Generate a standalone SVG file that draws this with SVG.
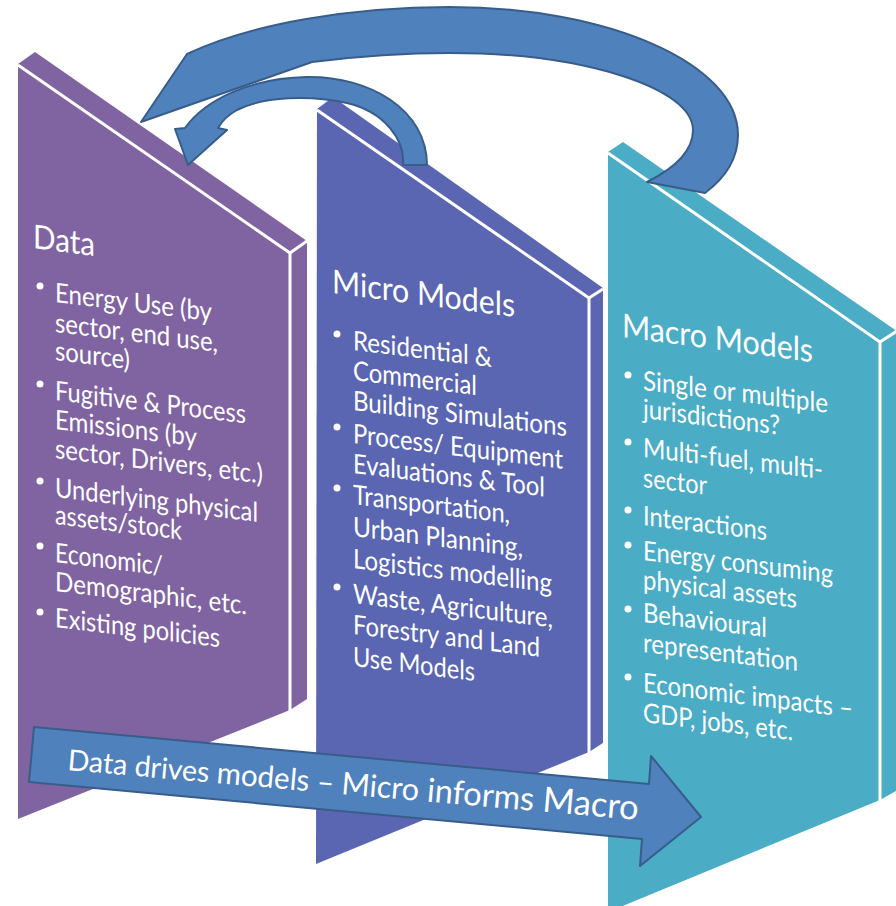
<svg xmlns="http://www.w3.org/2000/svg" width="896" height="906" viewBox="0 0 896 906">
  <style>
    .data{fill:#8064A2}
    .micro{fill:#5A66B2}
    .macro{fill:#4BACC6}
    .edge{fill:none;stroke:#ffffff;stroke-width:3;stroke-linejoin:miter}
    .arrow{fill:#4F81BD;stroke:#385D8A;stroke-width:2;stroke-linejoin:round}
    text{font-family:Lato,"Liberation Sans",sans-serif;fill:#ffffff}
    .h{font-size:33px}
    .b{font-size:27px}
    .dot{fill:#ffffff}
    .label{font-size:30px}
  </style>

  <!-- Data panel -->
  <g id="node-data">
    <polygon class="data" points="18,64 35,52 307,241 307,699 290,710 18,819"/>
    <polyline class="edge" points="18,65 290,253 290,712"/>
    <line class="edge" x1="290" y1="253" x2="307" y2="241"/>
    <text class="h" transform="translate(33,248) skewY(7.5)" textLength="62" lengthAdjust="spacingAndGlyphs">Data</text>
    <circle class="dot" cx="40" cy="286" r="3.5"/>
    <text class="b" transform="translate(55,302) skewY(7)" textLength="157" lengthAdjust="spacingAndGlyphs">Energy Use (by</text>
    <text class="b" transform="translate(55,332) skewY(7)" textLength="163" lengthAdjust="spacingAndGlyphs">sector, end use,</text>
    <text class="b" transform="translate(55,360) skewY(7)" textLength="75" lengthAdjust="spacingAndGlyphs">source)</text>
    <circle class="dot" cx="40" cy="384" r="3.5"/>
    <text class="b" transform="translate(55,400) skewY(7)" textLength="191" lengthAdjust="spacingAndGlyphs">Fugitive &amp; Process</text>
    <text class="b" transform="translate(55,429) skewY(7)" textLength="142" lengthAdjust="spacingAndGlyphs">Emissions (by</text>
    <text class="b" transform="translate(55,458) skewY(7)" textLength="208" lengthAdjust="spacingAndGlyphs">sector, Drivers, etc.)</text>
    <circle class="dot" cx="40" cy="481" r="3.5"/>
    <text class="b" transform="translate(55,497) skewY(7)" textLength="203" lengthAdjust="spacingAndGlyphs">Underlying physical</text>
    <text class="b" transform="translate(55,524) skewY(7)" textLength="127" lengthAdjust="spacingAndGlyphs">assets/stock</text>
    <circle class="dot" cx="40" cy="546" r="3.5"/>
    <text class="b" transform="translate(55,562) skewY(7)" textLength="108" lengthAdjust="spacingAndGlyphs">Economic/</text>
    <text class="b" transform="translate(55,591) skewY(7)" textLength="192" lengthAdjust="spacingAndGlyphs">Demographic, etc.</text>
    <circle class="dot" cx="40" cy="612" r="3.5"/>
    <text class="b" transform="translate(55,627) skewY(7)" textLength="165" lengthAdjust="spacingAndGlyphs">Existing policies</text>
  </g>

  <!-- Micro Models panel -->
  <g id="node-micro">
    <polygon class="micro" points="317,109 333,97 603,288 603,743 589,752 316,864"/>
    <polyline class="edge" points="317,110 589,298 589,753"/>
    <line class="edge" x1="589" y1="298" x2="603" y2="289"/>
    <text class="h" transform="translate(332,293) skewY(7.5)" textLength="183" lengthAdjust="spacingAndGlyphs">Micro Models</text>
    <circle class="dot" cx="337" cy="334" r="3.5"/>
    <text class="b" transform="translate(353,350) skewY(7)" textLength="139" lengthAdjust="spacingAndGlyphs">Residential &amp;</text>
    <text class="b" transform="translate(353,380) skewY(7)" textLength="124" lengthAdjust="spacingAndGlyphs">Commercial</text>
    <text class="b" transform="translate(353,410) skewY(7)" textLength="214" lengthAdjust="spacingAndGlyphs">Building Simulations</text>
    <circle class="dot" cx="337" cy="427" r="3.5"/>
    <text class="b" transform="translate(353,443) skewY(7)" textLength="210" lengthAdjust="spacingAndGlyphs">Process/ Equipment</text>
    <text class="b" transform="translate(353,473) skewY(7)" textLength="192" lengthAdjust="spacingAndGlyphs">Evaluations &amp; Tool</text>
    <circle class="dot" cx="337" cy="488" r="3.5"/>
    <text class="b" transform="translate(353,504) skewY(7)" textLength="157" lengthAdjust="spacingAndGlyphs">Transportation,</text>
    <text class="b" transform="translate(353,536) skewY(7)" textLength="170" lengthAdjust="spacingAndGlyphs">Urban Planning,</text>
    <text class="b" transform="translate(353,568) skewY(7)" textLength="199" lengthAdjust="spacingAndGlyphs">Logistics modelling</text>
    <circle class="dot" cx="337" cy="587" r="3.5"/>
    <text class="b" transform="translate(353,603) skewY(7)" textLength="200" lengthAdjust="spacingAndGlyphs">Waste, Agriculture,</text>
    <text class="b" transform="translate(353,634) skewY(7)" textLength="187" lengthAdjust="spacingAndGlyphs">Forestry and Land</text>
    <text class="b" transform="translate(353,666) skewY(7)" textLength="122" lengthAdjust="spacingAndGlyphs">Use Models</text>
  </g>

  <!-- Macro Models panel -->
  <g id="node-macro">
    <polygon class="macro" points="608,152 623,142 898,332 898,790 880,800 608,912"/>
    <polyline class="edge" points="608,153 880,342 880,802"/>
    <line class="edge" x1="880" y1="342" x2="897" y2="331"/>
    <text class="h" transform="translate(622,337) skewY(7.5)" textLength="191" lengthAdjust="spacingAndGlyphs">Macro Models</text>
    <circle class="dot" cx="628" cy="375" r="3.5"/>
    <text class="b" transform="translate(643,390) skewY(7)" textLength="185" lengthAdjust="spacingAndGlyphs">Single or multiple</text>
    <text class="b" transform="translate(643,418) skewY(7)" textLength="137" lengthAdjust="spacingAndGlyphs">jurisdictions?</text>
    <circle class="dot" cx="628" cy="442" r="3.5"/>
    <text class="b" transform="translate(643,457) skewY(7)" textLength="180" lengthAdjust="spacingAndGlyphs">Multi-fuel, multi-</text>
    <text class="b" transform="translate(643,487) skewY(7)" textLength="64" lengthAdjust="spacingAndGlyphs">sector</text>
    <circle class="dot" cx="628" cy="510" r="3.5"/>
    <text class="b" transform="translate(643,525) skewY(7)" textLength="124" lengthAdjust="spacingAndGlyphs">Interactions</text>
    <circle class="dot" cx="628" cy="545" r="3.5"/>
    <text class="b" transform="translate(643,560) skewY(7)" textLength="190" lengthAdjust="spacingAndGlyphs">Energy consuming</text>
    <text class="b" transform="translate(643,589) skewY(7)" textLength="154" lengthAdjust="spacingAndGlyphs">physical assets</text>
    <circle class="dot" cx="628" cy="609" r="3.5"/>
    <text class="b" transform="translate(643,622) skewY(7)" textLength="124" lengthAdjust="spacingAndGlyphs">Behavioural</text>
    <text class="b" transform="translate(643,652) skewY(7)" textLength="155" lengthAdjust="spacingAndGlyphs">representation</text>
    <circle class="dot" cx="628" cy="677" r="3.5"/>
    <text class="b" transform="translate(643,692) skewY(7)" textLength="210" lengthAdjust="spacingAndGlyphs">Economic impacts –</text>
    <text class="b" transform="translate(643,722) skewY(7)" textLength="150" lengthAdjust="spacingAndGlyphs">GDP, jobs, etc.</text>
  </g>

  <!-- Connectors: feedback loops and the forward flow arrow -->
  <g id="connectors">
    <!-- Macro back to Data -->
    <path id="loop-macro-data" class="arrow" d="M647,182 L705,193 C725,178 738,158 738,135 C738,64 609,7 450,7 C350,7 250,24 187,54 L141,122 L312,62 C360,56 400,53 450,53 C584,53 693,88 693,130 C693,150 675,168 647,182 Z"/>
    <!-- Micro back to Data -->
    <path id="loop-micro-data" class="arrow" d="M403,165 C405,140 385,112 347,103 C310,95 265,96 237,110 C228,115 222,121 218,128 L227,130 L188,165 L175,129 L185,128 C205,100 250,78 307,77 C370,76 427,110 427,165 Z"/>
    <!-- Data drives models, Micro informs Macro -->
    <path id="flow-data-macro" class="arrow" d="M34,727 L649,784 L651,756 L701,817 L640,866 L642,839 L29,782 Z"/>
    <text class="label" transform="translate(67,770) rotate(5)" textLength="573" lengthAdjust="spacingAndGlyphs"><tspan font-size="29">Data drives </tspan><tspan font-size="30">models – </tspan><tspan font-size="31">Micro </tspan><tspan font-size="33">informs </tspan><tspan font-size="35">Macro</tspan></text>
  </g>
</svg>
